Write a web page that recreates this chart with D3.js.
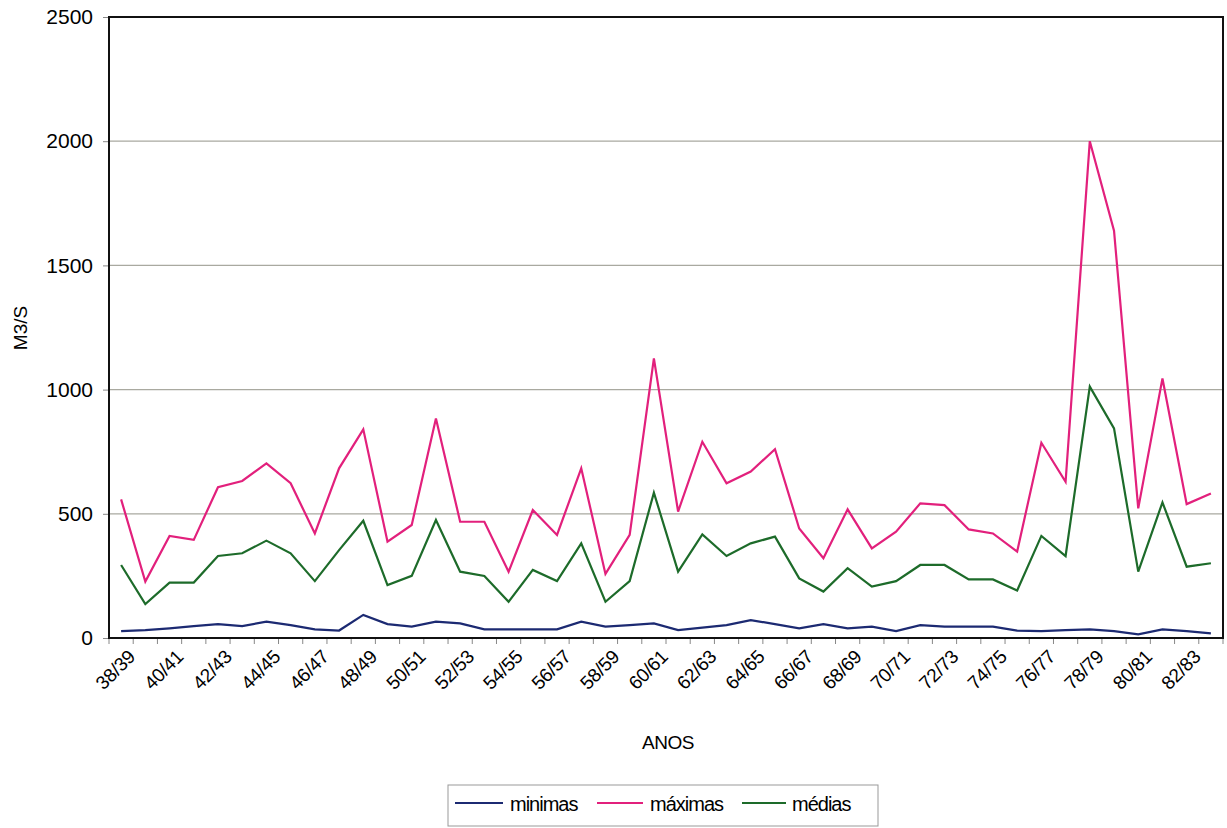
<!DOCTYPE html>
<html>
<head>
<meta charset="utf-8">
<script src="https://cdn.jsdelivr.net/npm/d3@7"></script>
<style>
  html, body { margin: 0; padding: 0; background: #fff; }
  svg { display: block; font-family: Arial, "Liberation Sans", sans-serif; }
</style>
</head>
<body>
<svg id="chart" width="1227" height="828"></svg>
<script>
// Hydrological years
const anos = [
  "38/39","39/40","40/41","41/42","42/43","43/44","44/45","45/46","46/47","47/48",
  "48/49","49/50","50/51","51/52","52/53","53/54","54/55","55/56","56/57","57/58",
  "58/59","59/60","60/61","61/62","62/63","63/64","64/65","65/66","66/67","67/68",
  "68/69","69/70","70/71","71/72","72/73","73/74","74/75","75/76","76/77","77/78",
  "78/79","79/80","80/81","81/82","82/83","83/84"
];

// Flow rates in m3/s
const minimas = [
  28, 32, 39, 48, 56, 48, 66, 52, 35, 30,
  93, 56, 46, 66, 59, 35, 35, 35, 35, 66,
  46, 52, 59, 32, 42, 52, 72, 56, 39, 56,
  39, 46, 28, 52, 46, 46, 46, 30, 28, 32,
  35, 28, 15, 35, 28, 19
];
const maximas = [
  558, 227, 411, 395, 607, 632, 703, 623, 421, 683,
  840, 388, 455, 884, 468, 468, 267, 515, 415, 683,
  258, 415, 1126, 509, 790, 623, 670, 760, 441, 321,
  518, 361, 428, 542, 535, 437, 421, 348, 786, 629,
  2000, 1640, 522, 1045, 539, 582
];
const medias = [
  294, 137, 223, 223, 330, 341, 392, 341, 229, 354,
  472, 213, 250, 475, 267, 250, 146, 274, 229, 381,
  146, 229, 585, 267, 417, 330, 381, 408, 240, 187,
  281, 207, 229, 294, 294, 236, 236, 191, 411, 330,
  1012, 844, 267, 546, 287, 301
];

const yTicks = [0, 500, 1000, 1500, 2000, 2500];

const series = [
  { name: "minimas", values: minimas, color: "#1c2a72" },
  { name: "máximas", values: maximas, color: "#e2207c" },
  { name: "médias",  values: medias,  color: "#1d6b2a" }
];

const svg = d3.select("#chart");
const plot = { left: 109, right: 1223, top: 17, bottom: 638 };

const xBand = d3.scaleBand().domain(anos).range([plot.left, plot.right]).padding(0);
const x = d3.scalePoint().domain(anos).range([plot.left, plot.right]).padding(0.5);
const y = d3.scaleLinear().domain([0, 2500]).range([plot.bottom, plot.top]);

// horizontal gridlines
svg.append("g")
  .selectAll("line")
  .data(yTicks.filter(v => v > 0 && v < 2500))
  .join("line")
  .attr("x1", plot.left).attr("x2", plot.right)
  .attr("y1", d => y(d)).attr("y2", d => y(d))
  .attr("stroke", "#a9a9a0").attr("stroke-width", 1.3);

// y axis
const yAxis = svg.append("g")
  .attr("transform", `translate(${plot.left},0)`)
  .call(d3.axisLeft(y).tickValues(yTicks).tickFormat(d3.format("d")).tickSize(6).tickPadding(10));
yAxis.select(".domain").remove();
yAxis.selectAll(".tick line").attr("stroke", "#888");
yAxis.selectAll(".tick text")
  .attr("font-size", 21).attr("fill", "#000")
  .attr("font-family", "Arial, 'Liberation Sans', sans-serif");

// x axis tick marks at category boundaries
const boundaries = anos.map(d => xBand(d)).concat([plot.right]);
svg.append("g")
  .selectAll("line")
  .data(boundaries)
  .join("line")
  .attr("x1", d => d).attr("x2", d => d)
  .attr("y1", plot.bottom).attr("y2", plot.bottom + 6)
  .attr("stroke", "#888").attr("stroke-width", 1);

// x labels, every other year
svg.append("g")
  .selectAll("text")
  .data(anos.filter((d, i) => i % 2 === 0))
  .join("text")
  .attr("transform", d => `translate(${x(d) + 5},${plot.bottom + 10}) rotate(-45)`)
  .attr("text-anchor", "end")
  .attr("dy", "0.75em")
  .attr("font-size", 19)
  .attr("letter-spacing", "-0.3")
  .attr("fill", "#000")
  .text(d => d);

// plot frame
svg.append("rect")
  .attr("x", plot.left).attr("y", plot.top)
  .attr("width", plot.right - plot.left).attr("height", plot.bottom - plot.top)
  .attr("fill", "none").attr("stroke", "#111").attr("stroke-width", 2);

// series lines
const line = d3.line()
  .x((d, i) => x(anos[i]))
  .y(d => y(d));

svg.append("g")
  .selectAll("path")
  .data(series)
  .join("path")
  .attr("d", d => line(d.values))
  .attr("fill", "none")
  .attr("stroke", d => d.color)
  .attr("stroke-width", 2.2)
  .attr("stroke-linejoin", "miter");

// axis titles
svg.append("text")
  .attr("x", 668).attr("y", 749)
  .attr("text-anchor", "middle")
  .attr("font-size", 19).attr("fill", "#000")
  .attr("letter-spacing", "-0.5")
  .text("ANOS");

svg.append("text")
  .attr("transform", "translate(27,328) rotate(-90)")
  .attr("text-anchor", "middle")
  .attr("font-size", 19).attr("fill", "#000")
  .text("M3/S");

// legend
const legend = svg.append("g");
legend.append("rect")
  .attr("x", 448).attr("y", 785).attr("width", 430).attr("height", 41)
  .attr("fill", "#fff").attr("stroke", "#999").attr("stroke-width", 1);

const legendItems = [
  { s: series[0], x1: 455, x2: 503, tx: 510 },
  { s: series[1], x1: 597, x2: 643, tx: 650 },
  { s: series[2], x1: 742, x2: 786, tx: 792 }
];
legendItems.forEach(it => {
  legend.append("line")
    .attr("x1", it.x1).attr("x2", it.x2)
    .attr("y1", 803).attr("y2", 803)
    .attr("stroke", it.s.color).attr("stroke-width", 2.2);
  legend.append("text")
    .attr("x", it.tx).attr("y", 811)
    .attr("font-size", 20).attr("letter-spacing", "-1")
    .attr("fill", "#000")
    .text(it.s.name);
});
</script>
</body>
</html>
